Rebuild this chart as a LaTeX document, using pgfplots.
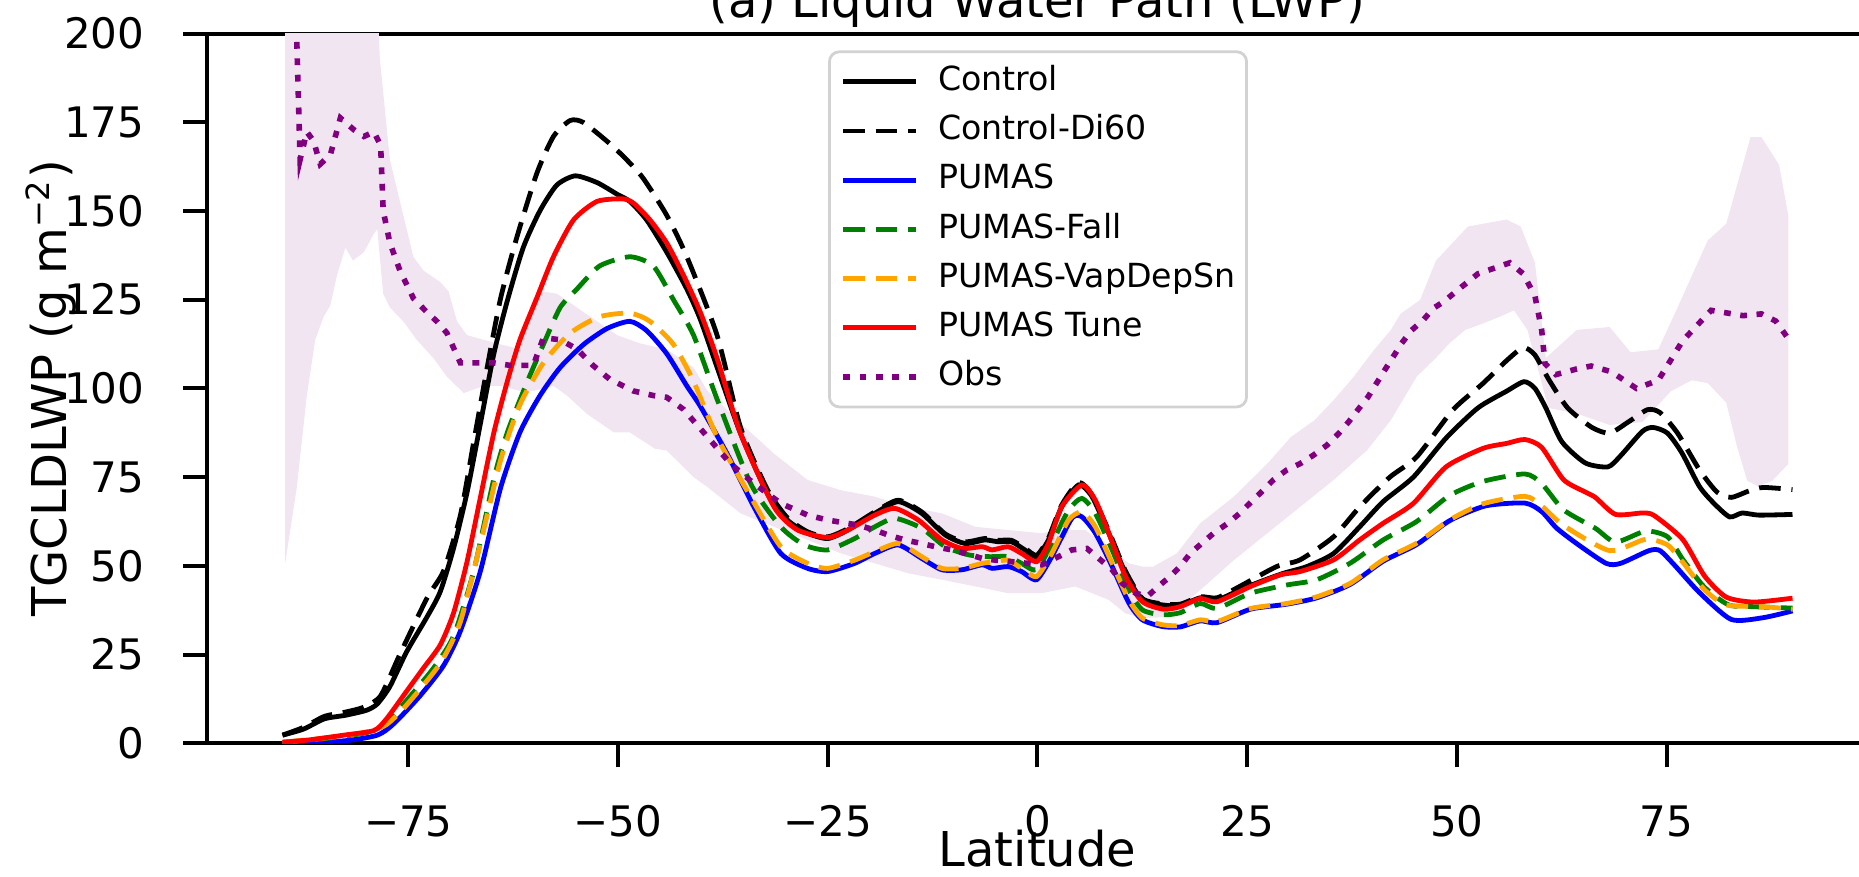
\documentclass[border=0pt]{standalone}
\usepackage{fontspec}
\setmainfont{DejaVu Sans}
\usepackage{pgfplots}
\pgfplotsset{compat=1.18}
\usepgfplotslibrary{fillbetween}
\definecolor{cblue}{RGB}{0,0,255}
\definecolor{cgreen}{RGB}{0,128,0}
\definecolor{corange}{RGB}{255,165,0}
\definecolor{cred}{RGB}{255,0,0}
\definecolor{cpurple}{RGB}{128,0,128}
\definecolor{cband}{RGB}{241,229,241}
\definecolor{clegend}{RGB}{210,210,210}
\begin{document}
\begin{tikzpicture}
\begin{axis}[
  at={(0pt,0pt)}, anchor=south west,
  scale only axis, width=415.25pt, height=177.45pt,
  xmin=-99, xmax=99, ymin=0, ymax=200,
  xtick={-75,-50,-25,0,25,50,75},
  xticklabels={−75,−50,−25,0,25,50,75},
  ytick={0,25,50,75,100,125,150,175,200},
  yticklabels={0,25,50,75,100,125,150,175,200},
  tick pos=left, tick align=outside, major tick length=6pt,
  every tick/.style={black, line width=1pt},
  axis line style={line width=1pt},
  tick label style={font=\fontsize{10.5}{12}\selectfont},
  xticklabel style={anchor=base, inner sep=0pt, yshift=-17.2pt},
  yticklabel style={anchor=east, inner sep=0pt, xshift=-9.5pt},
  xlabel={Latitude},
  ylabel={TGCLDLWP (g m\textsuperscript{−2})},
  every axis x label/.style={at={(axis description cs:0.5,-0.1739)}, anchor=base, inner sep=0pt, font=\fontsize{12}{14}\selectfont},
  every axis y label/.style={at={(axis description cs:-0.0843,0.5)}, rotate=90, anchor=base, inner sep=0pt, font=\fontsize{12}{14}\selectfont},
  title={(a) Liquid Water Path (LWP)},
  every axis title/.style={at={(axis description cs:0.5,1)}, anchor=base, yshift=4.1pt, inner sep=0pt, font=\fontsize{12}{14}\selectfont},
  legend cell align=left,
  legend image code/.code={\draw[#1] (0pt,0pt) -- (18.2pt,0pt);},
  legend style={
    at={(axis description cs:0.3739,0.9763)}, anchor=north west,
    draw=clegend, line width=0.7pt, rounded corners=2.5pt, fill=white,
    font=\fontsize{8.3}{9.8}\selectfont,
    inner xsep=2.75pt, inner ysep=3.5pt,
    row sep=4.3pt,
    nodes={inner sep=0pt, text height=6.2pt, text depth=1.8pt},
    /tikz/every odd column/.append style={column sep=4.8pt},
  },
]
% observation spread (band)
\addplot[draw=none, forget plot, name path=bandup] coordinates {
(-89.7,260) (-79.5,260) (-78.4,193) (-77.2,164.5) (-76,152.7) (-74.4,137.1) (-73.2,133.2) (-71.2,130) (-70.2,127.3) (-69.2,118.9) (-68,115) (-64,112.4) (-61.7,111.1) (-60.1,125.4) (-58.9,127.3) (-57.3,126.7) (-54.1,121.5) (-50.1,115) (-47.4,112.7) (-44.2,111) (-41,105.9) (-39.4,99.5) (-35.4,90.2) (-31.4,81.6) (-27.4,74.2) (-23.4,71.3) (-19.4,69.5) (-15.4,66.6) (-11.4,64.8) (-7.4,61) (-3.5,60.1) (0.5,59.2) (2.5,60.1) (5.7,60.1) (8.5,55.4) (10.9,50.7) (12.5,49.8) (13.8,49.8) (16.6,53.5) (19.4,62) (23.4,69.5) (27.4,78.8) (30.2,86.3) (33,91) (35.3,96.7) (37.7,103.3) (40.1,110.8) (42.1,116.4) (43.3,121.1) (45.6,124.9) (47.5,136) (51.3,145.6) (55.9,147.6) (57.6,145.6) (59.3,135.4) (60.6,108.6) (64.3,116.5) (68.2,117.3) (70.7,110.2) (74,111) (76.3,122.8) (79.9,141.7) (82.1,146.4) (85,170.8) (86.3,170.8) (88.4,163) (89.5,148.8)
};
\addplot[draw=none, forget plot, name path=bandlo] coordinates {
(-89.7,50.5) (-88.3,72) (-87.1,98) (-86.1,113.7) (-85.1,120.2) (-84.3,123.4) (-83.5,131.9) (-82.5,139.7) (-81.6,136) (-80.3,138.4) (-79.1,143.6) (-78.7,144.9) (-78,126.7) (-77.2,122.8) (-75.6,118.9) (-74,113.7) (-72,108.5) (-70.4,103.3) (-68.4,98.7) (-66,100.7) (-64,100.7) (-61.7,99.3) (-60.1,99.3) (-57.7,100.7) (-56.1,98) (-53.7,92.8) (-50.5,87.6) (-48.6,87.6) (-45.6,83) (-44.2,82.5) (-41,75) (-39.4,72.3) (-35.4,64.8) (-31.4,61) (-27.4,57.3) (-23.4,53.5) (-19.4,50.7) (-15.4,47.9) (-11.4,46.1) (-7.4,44.2) (-3.5,42.3) (0.5,42.3) (4.5,44.2) (8.5,40.4) (10.5,36.6) (12.5,35.3) (14.9,35.5) (16.2,36.6) (19.4,43.2) (23.4,51.6) (27.4,59.2) (31.3,66.6) (35.3,74.2) (39.3,82.6) (42.1,91) (45.2,103.3) (47.5,108.6) (49.1,112.7) (51,116.5) (53.1,118.3) (55.1,120.2) (56.8,122) (58.4,116.5) (60.9,94.5) (64.3,92.9) (68.2,89.7) (72.1,90.5) (75.5,99.2) (78,102.3) (79.9,101.5) (82.1,96) (83.4,83.5) (84.6,74) (85.9,72.4) (87.6,74) (89.5,78.7)
};
\addplot[fill=cband, draw=none, forget plot] fill between[of=bandup and bandlo];
% Control
\addplot[black, line width=1.2pt, smooth, tension=0.4] coordinates {
(-90,2.3) (-87.5,4.0) (-85,6.9) (-82.5,7.9) (-80,9.3) (-78.7,11.1) (-77.2,16) (-75.2,25.8) (-72.8,35.5) (-71.2,42.7) (-69.6,55) (-68,70.7) (-66.4,90.2) (-64.8,109.8) (-63.2,124.7) (-61.3,139.7) (-59.3,150.1) (-57.3,157.3) (-55.1,159.9) (-52.5,158) (-50.1,154.7) (-48.6,152.7) (-46.6,147.5) (-44.2,138.4) (-41.8,128) (-40.2,119.5) (-38.2,106) (-35.4,87.3) (-32.2,70.4) (-29.8,62.9) (-27.4,59.2) (-25,57.7) (-22.6,60.1) (-19.4,64.8) (-16.6,68.1) (-13.8,64.8) (-11,58.7) (-8.6,56.3) (-6.3,57.3) (-4.7,56.8) (-3.1,56.8) (-1.5,54.5) (-0.1,52.6) (1.3,57.3) (2.9,66.7) (4.9,72.8) (6.5,69.5) (8.5,59.2) (10.5,47.9) (12.5,40.4) (14.9,39.0) (17,38.8) (19.4,41) (21.4,40.4) (24.1,43.2) (26.5,45.5) (29.3,47.9) (32.1,49.8) (35.3,53.5) (38.4,61) (41.2,68.1) (44.8,75) (48.7,86) (52.5,94.5) (55.9,99.2) (58,101.9) (59.3,100) (60.6,94.5) (62.5,85) (65.3,79) (68,77.9) (69.5,81) (72.1,87.9) (73.4,89) (75.1,87.4) (76.8,81.9) (78.9,72.4) (80.6,67.7) (82.5,63.8) (84,64.9) (86,64.3) (90,64.5)
};
\addlegendentry{Control}
% Control-Di60
\addplot[black, line width=1.2pt, dash pattern=on 5.4pt off 2.7pt, smooth, tension=0.4] coordinates {
(-90,2.3) (-87.5,4.5) (-85,7.6) (-82.5,8.8) (-80.3,10.2) (-78.3,13.4) (-76,25.1) (-72.8,40.8) (-70.8,48.6) (-68.8,64.2) (-67.2,85) (-65.6,105.9) (-64,125.4) (-62.1,142.3) (-59.7,160.5) (-57.7,171) (-55.7,175.5) (-54.1,174.9) (-51,169) (-49,164.5) (-47,159.2) (-44.2,148.8) (-41.8,137.1) (-38.2,115) (-35.4,89) (-32.2,71.5) (-29.8,63.5) (-27.4,59.6) (-25,58.2) (-22.6,60.5) (-19.4,65.2) (-16.6,68.5) (-13.8,65.2) (-11,59) (-8.6,56.8) (-6.3,57.7) (-4.7,57.2) (-3.1,57.2) (-1.5,55) (-0.1,53) (1.3,57.8) (2.9,67.2) (4.9,73.5) (6.5,70) (8.5,59.8) (10.5,48.5) (12.5,40.8) (14.9,39.3) (17,39.2) (19.4,41.3) (21.4,41) (24.1,44.2) (28.5,49.8) (31.3,51.7) (35.3,58.2) (38.4,66.6) (42,75) (45.2,80.7) (49.5,93.9) (53.1,101.4) (55.9,107.8) (57.9,111.5) (59.3,109.4) (61,102.3) (63.2,94.5) (66.1,89) (68.2,87.4) (70.4,90.5) (72.7,94) (74.2,93.2) (76.3,87.4) (78.9,77.1) (81,70.8) (82.7,69.3) (84.8,71.1) (86.5,72.1) (90,71.5)
};
\addlegendentry{Control-Di60}
% PUMAS
\addplot[cblue, line width=1.2pt, smooth, tension=0.4] coordinates {
(-90,0.2) (-82.7,0.7) (-78.7,2.3) (-76.7,5.6) (-73.6,13.4) (-70.8,21.9) (-68.8,31.6) (-66.4,48.6) (-64,72) (-61.7,87.6) (-59.3,98) (-56.9,105.9) (-54.1,112.4) (-51.3,116.9) (-48.6,118.9) (-46.6,116.3) (-44.2,109.8) (-41.8,100.7) (-40.2,95) (-37,81.6) (-33.8,66.6) (-30.6,53.5) (-27.4,49.3) (-25,48.4) (-21.8,50.7) (-19.4,53.5) (-16.6,55.9) (-13.8,52.1) (-11.4,48.9) (-9,48.9) (-6.6,50.3) (-5.4,49.3) (-3.5,49.8) (-1.9,48.4) (-0.1,46.1) (1.7,52.6) (4.1,63.4) (5.3,63.8) (6.9,59.2) (8.9,49.8) (10.9,39.5) (12.5,34.8) (14.9,32.9) (17,32.8) (19.4,34.5) (21.4,34) (25.4,37.8) (29.7,39.2) (33.3,41) (37.3,44.8) (41.2,51.3) (45.2,56) (49.1,62.7) (53.4,66.9) (58.1,67.7) (60.1,65.3) (61.9,60.6) (64.5,55.9) (67.8,50.7) (69.5,50.7) (72.9,54.3) (74.2,54.3) (75.9,50.3) (78.9,42.5) (82.7,34.9) (86.5,35.4) (90,37.3)
};
\addlegendentry{PUMAS}
% PUMAS-Fall
\addplot[cgreen, line width=1.2pt, dash pattern=on 5.4pt off 2.7pt, smooth, tension=0.4] coordinates {
(-90,0.3) (-85,1.3) (-80,3) (-77.6,5.6) (-75.2,12.1) (-72,21.2) (-69.6,30.3) (-67.2,48.6) (-64.8,74.6) (-63.2,87.6) (-60.8,102) (-58.9,112.4) (-56.9,122.8) (-54.9,128) (-52.2,134.5) (-48.6,137.1) (-45.8,134.5) (-43.4,125) (-41,115) (-38.2,97) (-34.2,73.2) (-30.6,61) (-27.8,55.9) (-25,54.5) (-21.8,57.7) (-19.4,61) (-17,63.4) (-13.8,60.6) (-11,55.4) (-8.2,53.1) (-5.8,52.6) (-3.5,52.6) (-1.9,50.7) (-0.1,48.9) (1.7,56.3) (3.7,65.7) (5.3,69) (6.9,64.8) (8.9,54.5) (10.9,43.2) (12.5,37.6) (14.9,36.2) (17,36.8) (19.4,39.4) (21.4,38) (25.4,42.3) (29.7,44.6) (33.3,46.1) (37.3,50.8) (41.2,57.3) (45.2,62.5) (49.1,69.8) (53.1,73.8) (58.1,75.9) (60.1,73.2) (62.7,65.8) (66.5,60.6) (68.9,56.7) (72.5,59.8) (75.1,58.2) (76.9,51.9) (79.5,44) (82.4,39) (85.4,38.5) (90,38.1)
};
\addlegendentry{PUMAS-Fall}
% PUMAS-VapDepSn
\addplot[corange, line width=1.2pt, dash pattern=on 5.4pt off 2.7pt, smooth, tension=0.4] coordinates {
(-90,0.3) (-85,1.5) (-80,3.2) (-77.6,5.3) (-75.2,10.8) (-71.2,22.5) (-68.8,34.2) (-66.4,56.4) (-64,79.8) (-61.7,95.4) (-58.9,107.2) (-55.7,115.6) (-52.2,120.2) (-48.6,121.2) (-46.2,118.9) (-43.4,112.4) (-41,102) (-38.2,86.3) (-34.2,69.5) (-30.6,55.4) (-27.4,50.7) (-25,49.3) (-21.8,51.6) (-19.4,54) (-16.6,56.3) (-13.8,52.6) (-11.4,49.3) (-9,49.3) (-6.6,50.7) (-5,51.2) (-3.5,51.6) (-1.9,49.3) (-0.1,47) (1.7,53.5) (3.7,62.9) (5.3,65.2) (6.9,61) (8.9,50.7) (10.9,40.4) (12.5,35.3) (14.9,33.4) (17,33.2) (19.4,34.8) (21.4,34.3) (25.4,38) (29.7,39.4) (33.3,41.3) (37.3,45.1) (41.2,51.7) (45.2,56.4) (49.1,62.9) (53.1,67.5) (58.1,69.6) (60.1,66.9) (62.7,61.4) (68.2,54.3) (72.5,57.5) (75.1,55.9) (76.9,51.1) (79.5,43.3) (82.1,39) (86.5,38.5) (90,37.8)
};
\addlegendentry{PUMAS-VapDepSn}
% PUMAS Tune
\addplot[cred, line width=1.2pt, smooth, tension=0.4] coordinates {
(-90,0.3) (-86.7,1) (-82.7,2.3) (-79.1,3.6) (-77.6,6.9) (-75.2,14.7) (-73.2,21.2) (-71.2,27.7) (-69.6,36.8) (-68,51.2) (-66.4,69.4) (-64.8,87.6) (-63.2,102) (-61.7,113.7) (-59.7,125.4) (-57.7,137.1) (-55.3,147.5) (-52.5,152.7) (-49.4,153.4) (-48.1,152.1) (-46.2,147.5) (-44.2,141) (-42.2,131.9) (-40.2,121.5) (-38.2,108.5) (-35.4,87.3) (-31.4,66.6) (-28.6,60.1) (-25,58) (-22.6,60.1) (-19.4,64.3) (-17,66.2) (-14.2,62.9) (-11.4,57.3) (-9,54.9) (-6.6,55.4) (-5.4,54.5) (-3.5,55.4) (-1.9,53.5) (-0.1,51.2) (1.3,56.3) (2.9,66.7) (5.3,72.8) (6.9,68.5) (8.5,59.2) (10.5,47) (12.5,39.9) (15,37.8) (17,38.5) (19.4,40.8) (21.4,39.9) (25.4,44.2) (29,47.5) (31.3,48.4) (35.3,51.7) (38.4,57.3) (41.2,62) (44.8,67.6) (48.7,77.9) (53.1,83.1) (55.9,84.5) (58.1,85.6) (60.1,83.4) (62.7,74.3) (65.3,70.8) (66.5,69.3) (68.9,64.5) (72.1,64.9) (73.5,64.2) (76.9,57.5) (79.5,47.2) (82.1,41.2) (85.4,39.8) (90,40.9)
};
\addlegendentry{PUMAS Tune}
% Obs
\addplot[cpurple, line width=1.4pt, dash pattern=on 1.7pt off 2.4pt] coordinates {
(-89.5,290) (-88.5,215) (-87.9,164.5) (-87.1,172.3) (-86.3,169.7) (-85.5,163.2) (-84.3,165.8) (-83.1,176.2) (-81.5,172.9) (-80.3,171) (-79.1,172.3) (-78.3,168.4) (-78,150.1) (-77.2,141) (-76,133.2) (-74.4,125.4) (-72.8,121.5) (-71.6,118.9) (-70.4,115.6) (-68.8,107.2) (-66.8,107.2) (-64.8,107.2) (-62.9,106.5) (-60.1,106.5) (-58.9,114.3) (-56.9,113.7) (-54.9,111.1) (-53,106.5) (-51,102.6) (-48.2,99.3) (-45.8,98) (-44.2,97.5) (-42.2,94.1) (-39.8,87.6) (-36.6,78.8) (-33.8,73.2) (-30.6,67.6) (-27.4,64.3) (-25,62.9) (-21.4,61.5) (-19.4,60.1) (-17.8,58.7) (-15.8,57.3) (-13.8,56.3) (-12.2,55.4) (-10.2,54.5) (-8.6,53.5) (-6.6,52.1) (-5,51.6) (-3.1,51.2) (-1.1,50.7) (0.5,50.3) (2.5,52.6) (4.1,54.5) (5.9,54.9) (7.3,52.1) (8.9,48.9) (10.1,45.1) (11.7,42.3) (13.1,41.4) (14.4,44.2) (15.8,47) (17,49.8) (18.2,53.5) (19.8,56.8) (21.2,59.6) (22.7,62) (24.1,64.8) (25.5,68.1) (26.9,71.3) (28.1,74.2) (29.7,77) (31.3,78.8) (32.9,81.2) (34.5,84) (35.9,87.3) (37.1,90.6) (38.3,94.3) (39.4,97.6) (40.4,101.4) (41.4,105.2) (42.4,108.9) (43.4,112.7) (44.6,116.4) (46,119.3) (47.2,122.6) (48.4,124.4) (50.5,128.5) (52.5,132.3) (56.3,135.4) (57.9,132.3) (59.3,126) (60.1,116.5) (60.5,107) (61.8,103.9) (64.3,105.5) (66,106.3) (68.4,104.7) (71.4,100) (74,102.3) (76.9,113.4) (80.3,122) (84.1,120.5) (86.3,121) (88,119) (89.5,114)
};
\addlegendentry{Obs}
\end{axis}
\pgfresetboundingbox
\useasboundingbox (-51.75pt,-33.4pt) rectangle (413pt,185.83pt);
\end{tikzpicture}
\end{document}
